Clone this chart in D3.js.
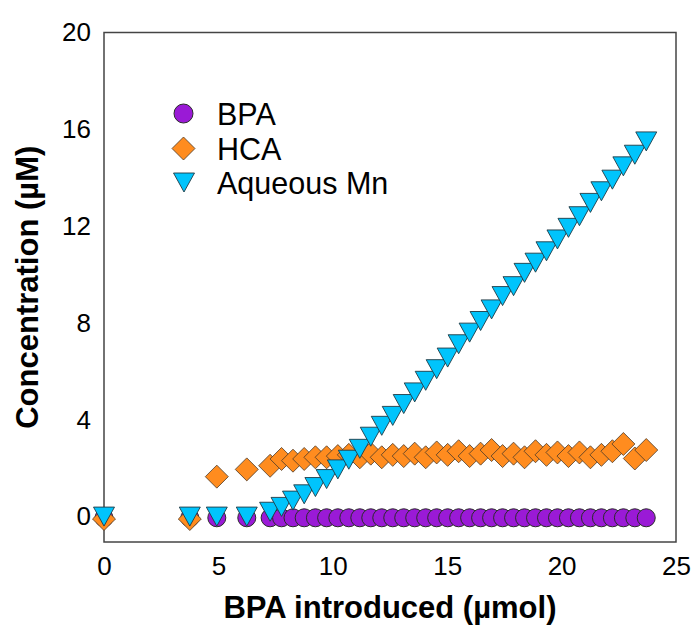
<!DOCTYPE html>
<html>
<head>
<meta charset="utf-8">
<script src="https://cdn.jsdelivr.net/npm/d3@7/dist/d3.min.js"></script>
<style>
  html, body { margin: 0; padding: 0; background: #fff; }
  svg { display: block; }
</style>
</head>
<body>
<svg id="chart" width="696" height="631"></svg>
<script>
// ---- Data ----
const xIntroduced = [0, 3.75, 4.93, 6.24,
  7.26, 7.76, 8.26, 8.75, 9.24, 9.73, 10.22, 10.7, 11.18, 11.66, 12.14, 12.62,
  13.1, 13.58, 14.06, 14.54, 15.02, 15.5, 15.98, 16.46, 16.94, 17.42, 17.9,
  18.38, 18.86, 19.34, 19.82, 20.3, 20.78, 21.26, 21.74, 22.22, 22.7, 23.2, 23.7];

const bpaValues = [-0.05, -0.05, -0.05, -0.05,
  -0.05, -0.05, -0.05, -0.05, -0.05, -0.05, -0.05, -0.05, -0.05, -0.05, -0.05, -0.05,
  -0.05, -0.05, -0.05, -0.05, -0.05, -0.05, -0.05, -0.05, -0.05, -0.05, -0.05,
  -0.05, -0.05, -0.05, -0.05, -0.05, -0.05, -0.05, -0.05, -0.05, -0.05, -0.05, -0.05];

const hcaValues = [-0.1, -0.1, 1.65, 1.95,
  2.1, 2.38, 2.31, 2.38, 2.45, 2.45, 2.5, 2.55, 2.45, 2.6, 2.45, 2.55,
  2.5, 2.6, 2.45, 2.65, 2.55, 2.7, 2.5, 2.6, 2.75, 2.5, 2.6,
  2.45, 2.7, 2.55, 2.65, 2.5, 2.65, 2.45, 2.55, 2.7, 3.0, 2.4, 2.75];

const mnValues = [0, 0, 0, 0,
  0.2, 0.4, 0.66, 0.92, 1.22, 1.55, 1.95, 2.35, 2.8, 3.3, 3.75, 4.16,
  4.65, 5.13, 5.61, 6.09, 6.57, 7.12, 7.6, 8.08, 8.56, 9.11, 9.52,
  10.07, 10.49, 10.96, 11.45, 11.93, 12.41, 12.96, 13.44, 13.92, 14.47, 14.95, 15.5];

const xTicks = [0, 5, 10, 15, 20, 25];
const yTicks = [0, 4, 8, 12, 16, 20];
const seriesNames = ["BPA", "HCA", "Aqueous Mn"];
const xTitle = "BPA introduced (\u00b5mol)";
const yTitle = "Concentration (\u00b5M)";

// ---- Layout ----
const svg = d3.select("#chart");
const plot = { left: 104, right: 676, top: 32.5, bottom: 542 };
const x = d3.scaleLinear().domain([0, 25]).range([plot.left, plot.right]);
const y = d3.scaleLinear().domain([-1.05, 20]).range([plot.bottom, plot.top]);

const colors = { BPA: "#9a1ad6", HCA: "#ff8c1f", Mn: "#00c4fc" };
const strokeCol = "#2a2a2a";
const font = "'Liberation Sans', Arial, Helvetica, sans-serif";

// Axes (no tick marks, no domain line)
const gx = svg.append("g")
  .attr("transform", `translate(0,${plot.bottom})`)
  .call(d3.axisBottom(x).tickValues(xTicks).tickSize(0).tickPadding(15).tickFormat(d3.format("d")));
gx.select(".domain").remove();
gx.selectAll("text").attr("font-family", font).attr("font-size", 26).attr("fill", "#000");

const gy = svg.append("g")
  .attr("transform", `translate(${plot.left},0)`)
  .call(d3.axisLeft(y).tickValues(yTicks).tickSize(0).tickPadding(13).tickFormat(d3.format("d")));
gy.select(".domain").remove();
gy.selectAll("text").attr("font-family", font).attr("font-size", 26).attr("fill", "#000");

// Frame
svg.append("rect")
  .attr("x", plot.left).attr("y", plot.top)
  .attr("width", plot.right - plot.left).attr("height", plot.bottom - plot.top)
  .attr("fill", "none").attr("stroke", "#444").attr("stroke-width", 1.5);

// Marker shapes
const circleR = 9;
const diamondPath = (s) => `M0,${-s}L${s},0L0,${s}L${-s},0Z`;
const triPath = (w, h) => `M${-w/2},${-h/2}L${w/2},${-h/2}L0,${h/2}Z`;

const pts = xIntroduced.map((xv, i) => ({ x: xv, bpa: bpaValues[i], hca: hcaValues[i], mn: mnValues[i] }));

// BPA circles
svg.append("g").selectAll("circle").data(pts).join("circle")
  .attr("cx", d => x(d.x)).attr("cy", d => y(d.bpa)).attr("r", circleR)
  .attr("fill", colors.BPA).attr("stroke", strokeCol).attr("stroke-width", 1);

// HCA diamonds
svg.append("g").selectAll("path").data(pts).join("path")
  .attr("d", diamondPath(11.5))
  .attr("transform", d => `translate(${x(d.x)},${y(d.hca)})`)
  .attr("fill", colors.HCA).attr("stroke", "#4a3a2a").attr("stroke-width", 0.8);

// Aqueous Mn triangles
svg.append("g").selectAll("path").data(pts).join("path")
  .attr("d", triPath(21, 19))
  .attr("transform", d => `translate(${x(d.x)},${y(d.mn)})`)
  .attr("fill", colors.Mn).attr("stroke", "#1f3a44").attr("stroke-width", 0.9);

// Legend
const legX = 183.5, legTextX = 217;
const legY = [113.5, 148.5, 182.5];
const lg = svg.append("g");
lg.append("circle").attr("cx", legX).attr("cy", legY[0]).attr("r", 9.5)
  .attr("fill", colors.BPA).attr("stroke", strokeCol).attr("stroke-width", 1);
lg.append("path").attr("d", diamondPath(11.5)).attr("transform", `translate(${legX},${legY[1]})`)
  .attr("fill", colors.HCA).attr("stroke", "#4a3a2a").attr("stroke-width", 0.8);
lg.append("path").attr("d", triPath(21, 19)).attr("transform", `translate(${legX + 0.5},${legY[2]})`)
  .attr("fill", colors.Mn).attr("stroke", "#1f3a44").attr("stroke-width", 0.9);
lg.selectAll("text").data(seriesNames).join("text")
  .attr("x", legTextX).attr("y", (d, i) => legY[i] + 11)
  .attr("font-family", font).attr("font-size", 30.5).attr("fill", "#000")
  .text(d => d);

// Axis titles
svg.append("text")
  .attr("x", (plot.left + plot.right) / 2).attr("y", 618)
  .attr("text-anchor", "middle")
  .attr("font-family", font).attr("font-size", 31).attr("font-weight", "bold")
  .text(xTitle);
svg.append("text")
  .attr("transform", `translate(38,${(plot.top + plot.bottom) / 2}) rotate(-90)`)
  .attr("text-anchor", "middle")
  .attr("font-family", font).attr("font-size", 31).attr("font-weight", "bold")
  .text(yTitle);
</script>
</body>
</html>
